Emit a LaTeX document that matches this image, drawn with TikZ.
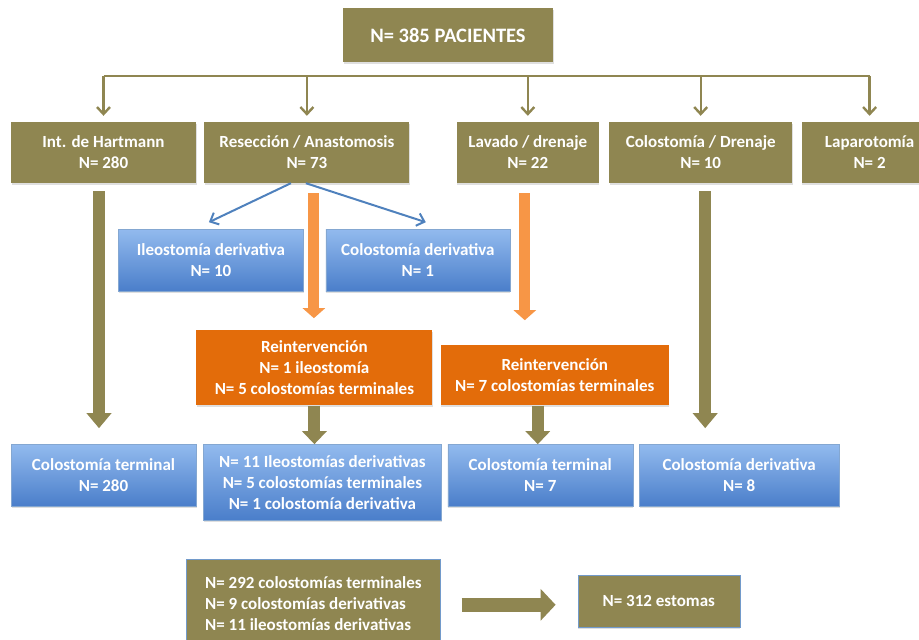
\documentclass[tikz,border=0pt]{standalone}
\usepackage{fontspec}
\setmainfont{Carlito}
\usetikzlibrary{arrows.meta, positioning, calc, shadows}
\definecolor{flowolive}{RGB}{143,134,81}
\definecolor{floworange}{RGB}{227,108,10}
\definecolor{flowlight}{RGB}{247,150,70}
\definecolor{flowblue}{RGB}{79,129,189}
\definecolor{flowbluetop}{RGB}{146,186,238}
\definecolor{flowbluebot}{RGB}{74,126,202}
\newcommand{\boxfont}{\fontsize{17}{21}\selectfont\bfseries}

\begin{document}
\begin{tikzpicture}[x=1pt, y=-1pt,
  box/.style={rectangle, fill=#1, text=white, font=\boxfont, align=center,
              inner sep=2pt, drop shadow={shadow xshift=0.6pt, shadow yshift=-1.8pt, opacity=0.25}},
  bluebox/.style={rectangle, draw=flowblue!70, top color=flowbluetop, bottom color=flowbluebot,
              text=white, font=\boxfont, align=center, inner sep=2pt,
              drop shadow={shadow xshift=0.6pt, shadow yshift=-1.8pt, opacity=0.25}},
  arr/.style={-{Straight Barb[length=7pt,width=13pt]}, line width=2.4pt, #1},
  fat/.style={-{Triangle[length=#1]}, line width=12pt},
  node distance=10pt
]
\useasboundingbox (0,0) rectangle (919,640);

%% Top
\node[box=flowolive, minimum width=210pt, minimum height=54pt, font=\fontsize{20.5}{24}\selectfont\bfseries]
  (pac) at (448,35) {N= 385 PACIENTES};

%% Interventions
\node[box=flowolive, minimum width=185pt, minimum height=61pt] (hart) at (103.5,152.5) {Int. de Hartmann\\N= 280};
\node[box=flowolive, minimum width=205pt, minimum height=61pt, right=8pt of hart]  (rese) {Resección / Anastomosis\\N= 73};
\node[box=flowolive, minimum width=142pt, minimum height=61pt, right=47pt of rese] (lava) {Lavado / drenaje\\N= 22};
\node[box=flowolive, minimum width=183pt, minimum height=61pt, right=10pt of lava] (cold) {Colostomía / Drenaje\\N= 10};
\node[box=flowolive, minimum width=136pt, minimum height=61pt, right=9pt of cold]  (lapa) {Laparotomía\\N= 2};

\coordinate (bus) at (0,76);
\draw[flowolive, line width=2.4pt] (bus -| hart.north) -- (bus -| lapa.north);
\foreach \n in {hart, rese, lava, cold, lapa}
  \draw[arr=flowolive, shorten >=6pt] (bus -| \n.north) -- (\n.north);

%% Derivative stomas after anastomosis
\node[bluebox, minimum width=185pt, minimum height=62pt, below=46pt of rese, xshift=-96pt] (ileo) {Ileostomía derivativa\\N= 10};
\node[bluebox, minimum width=184pt, minimum height=62pt, right=22pt of ileo] (colder) {Colostomía derivativa\\N= 1};
\draw[arr=flowblue, line width=2pt] ([xshift=-16pt]rese.south) -- ([xshift=-2pt,yshift=7pt]ileo.north);
\draw[arr=flowblue, line width=2pt] ([xshift=-1pt]rese.south) -- ([xshift=8pt,yshift=7pt]colder.north);

%% Reinterventions
\node[box=floworange, minimum width=236pt, minimum height=75pt, below=147pt of rese, xshift=7.5pt] (rein) {Reintervención\\N= 1 ileostomía\\N= 5 colostomías terminales};
\node[box=floworange, minimum width=228pt, minimum height=60pt, right=8pt of rein.south east, anchor=south west] (reinb) {Reintervención\\N= 7 colostomías terminales};
\draw[fat=10pt, flowlight, line width=11pt, -{Triangle[length=10pt,width=22pt]}]
  ($(rese.south)+(7,10)$) -- ($(rese.south |- rein.north)+(7,-12)$);
\draw[fat=10pt, flowlight, line width=11pt, -{Triangle[length=10pt,width=22pt]}]
  ($(lava.south)+(-3,10)$) -- ($(lava.south |- reinb.north)+(-3,-25)$);

%% Resulting stomas
\node[bluebox, minimum width=185pt, minimum height=62pt, below=261pt of hart] (term) {Colostomía terminal\\N= 280};
\node[bluebox, minimum width=238pt, minimum height=76pt, right=7pt of term.north east, anchor=north west] (mix) {N= 11 Ileostomías derivativas\\N= 5 colostomías terminales\\N= 1 colostomía derivativa};
\node[bluebox, minimum width=185pt, minimum height=62pt, right=6pt of mix.north east, anchor=north west] (termb) {Colostomía terminal\\N= 7};
\node[bluebox, minimum width=200pt, minimum height=62pt, right=6pt of termb] (derb) {Colostomía derivativa\\N= 8};

\draw[flowolive, -{Triangle[length=15pt,width=24pt]}, line width=12pt]
  ($(hart.south)+(-4.5,8)$) -- ($(hart.south |- term.north)+(-4.5,-16)$);
\draw[flowolive, -{Triangle[length=15pt,width=24pt]}, line width=12pt]
  ($(cold.south)+(4.5,8)$) -- ($(cold.south |- derb.north)+(4.5,-16)$);
\draw[flowolive, -{Triangle[length=13pt,width=24pt]}, line width=12pt]
  (rein.south) -- (rein.south |- mix.north);
\draw[flowolive, -{Triangle[length=13pt,width=24pt]}, line width=12pt]
  ($(termb.north |- reinb.south)+(-2.5,0)$) -- ($(termb.north)+(-2.5,0)$);

%% Totals
\node[box=flowolive, draw=flowblue!80, minimum width=254pt, minimum height=90pt, align=left,
      below=38pt of mix, xshift=-9pt] (summ) {N= 292 colostomías terminales\\N= 9 colostomías derivativas\\N= 11 ileostomías derivativas};
\node[box=flowolive, draw=flowblue!80, minimum width=162pt, minimum height=52pt, right=137pt of summ, yshift=3pt] (esto) {N= 312 estomas};
\draw[flowolive, -{Triangle[length=15pt,width=31pt]}, line width=14pt]
  ($(summ.east)+(21,1)$) -- ($(summ.east -| esto.west)+(-22,1)$);
\end{tikzpicture}
\end{document}
